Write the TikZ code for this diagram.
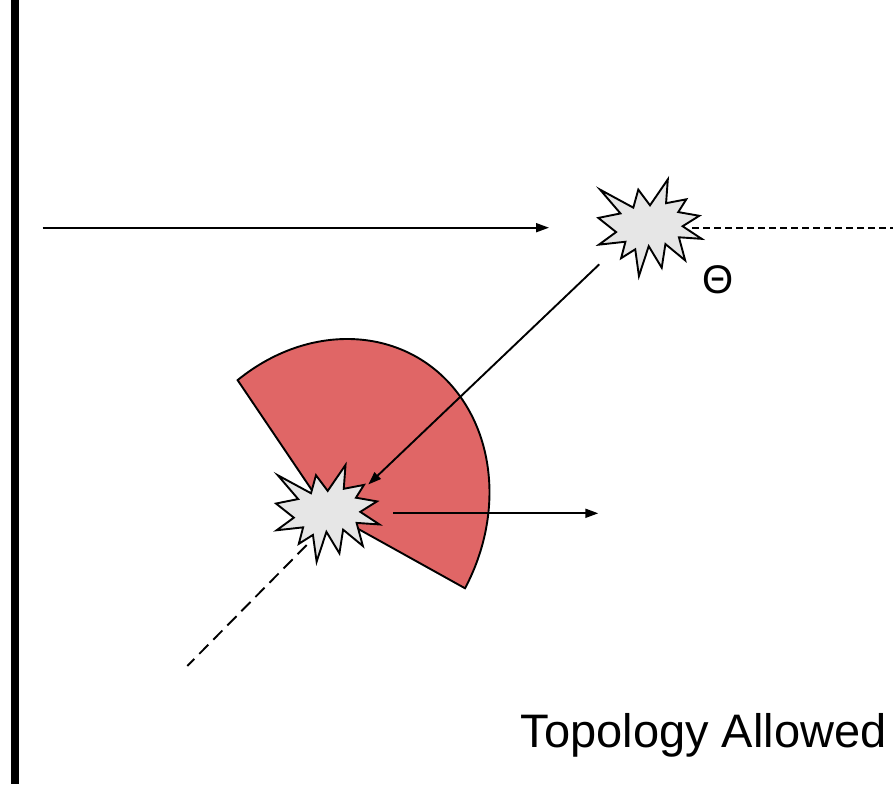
\documentclass[tikz,border=0pt]{standalone}
\usepackage{fontspec}
\setmainfont{Liberation Sans}
\usetikzlibrary{arrows.meta}
\definecolor{piered}{HTML}{E06666}
\definecolor{sealgray}{HTML}{E6E6E6}
\newcommand\drawseal[1]{%
  \begin{scope}[shift={(#1.north west)}, x={(0.47870pt,0pt)}, y={(0pt,-0.44769pt)}]
    \draw[sealpath] (108.00,58.00) -- (145.22,0) -- (141.55,53.25) -- (183.80,44.57)
      -- (167.02,73.15) -- (210.97,81.37) -- (176.07,104.75) -- (216.00,132.90)
      -- (168.37,129.42) -- (181.45,180.95) -- (140.20,144.57) -- (132.47,197.37)
      -- (105.32,149.35) -- (84.85,216.00) -- (77.15,156.27) -- (47.62,176.17)
      -- (56.67,139.37) -- (1.35,145.87) -- (37.22,117.75) -- (0,86.15)
      -- (46.27,76.17) -- (3.70,22.95) -- (73.12,63.20) -- (83.52,22.95) -- cycle;
  \end{scope}}
\begin{document}
\begin{tikzpicture}[x=1pt,y=-1pt,
  line/.style={line width=1.9pt},
  arr/.style={line, -{Triangle[length=13pt,width=9pt]}},
  dashA/.style={line, dash pattern=on 6.5pt off 4.5pt},
  dashB/.style={line, dash pattern=on 13pt off 7pt},
  sealbox/.style={minimum width=103.4pt, minimum height=96.7pt, inner sep=0pt, outer sep=0pt},
  sealpath/.style={draw=black, fill=sealgray, line width=1.9pt, line join=miter},
  piestyle/.style={draw=black, fill=piered, line width=1.9pt, line join=miter},
  lbl/.style={inner sep=0pt, text=black}]
\useasboundingbox (0,0) rectangle (893,784);
% wall
\fill[black] (11,0) rectangle (19,784);
% pie (elliptical sector, rotated)
\coordinate (pcen) at (324.6,516.8);
\begin{scope}[shift={(pcen)}, rotate=59.4]
  \coordinate (papex) at (5.70,-1.75);
  \coordinate (pl) at (-66.55:184.4 and 157.5);
  \draw[piestyle] (papex) -- (pl)
    arc[start angle=-66.55, end angle=86.9, x radius=184.4, y radius=157.5] -- cycle;
\end{scope}
% seal holders
\node[sealbox] (up) at (650,227.7) {};
\node[sealbox] (low) at (327.7,513.3) {};
% connectors
\coordinate (h1s) at (42.7,227.7);
\coordinate (h1e) at (549,227.7);
\draw[arr] (h1s) -- (h1e);
\coordinate (d1s) at (692,227.7);
\coordinate (d1e) at (893,227.7);
\draw[dashA] (d1s) -- (d1e);
\coordinate (dgs) at (599.3,264.3);
\coordinate (dge) at (368.3,484.5);
\draw[arr] (dgs) -- (dge);
\coordinate (h2s) at (393.3,513.3);
\coordinate (h2e) at (598.3,513.3);
\draw[arr] (h2s) -- (h2e);
\coordinate (d2s) at (306.7,545);
\coordinate (d2e) at (187.3,666);
\draw[dashB] (d2s) -- (d2e);
% seals
\drawseal{up}
\drawseal{low}
% labels
\node[lbl, font=\fontsize{40}{44}\selectfont] (theta) at (718.3,280) {Θ};
\node[lbl, anchor=base west, font=\fontsize{47}{51}\selectfont] (title) at (520.5,747.7) {Topology Allowed};
\end{tikzpicture}
\end{document}
